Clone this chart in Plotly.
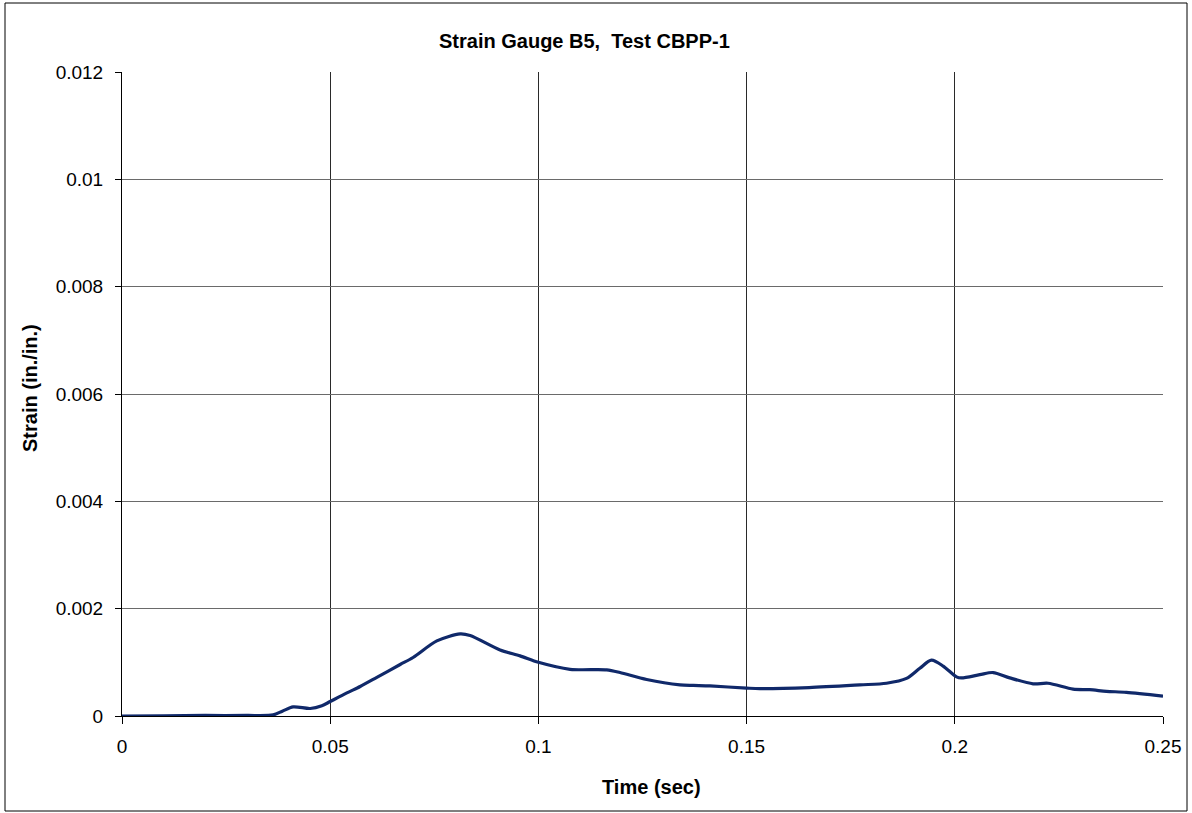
import plotly.graph_objects as go

time_s = [0.0, 0.01, 0.02, 0.03, 0.0363, 0.0385, 0.0411, 0.0452, 0.0480, 0.0500, 0.0540, 0.0572, 0.0612,
          0.0668, 0.0699, 0.0756, 0.0812, 0.0836, 0.0908, 0.0956, 0.1000, 0.1076, 0.1164,
          0.1196, 0.1260, 0.1340, 0.1372, 0.1412, 0.1500, 0.1532, 0.1650, 0.1772, 0.1836,
          0.1884, 0.1916, 0.1944, 0.1972, 0.2004, 0.2016, 0.2060, 0.2092, 0.2132, 0.2188,
          0.2224, 0.2284, 0.2324, 0.2364, 0.2412, 0.2500]
strain = [0.0, 0.000005, 0.00001, 0.00001, 0.00002, 0.00009, 0.00017, 0.00014, 0.00019, 0.00027, 0.00043, 0.00055, 0.00072,
          0.00096, 0.00109, 0.00140, 0.00153, 0.00150, 0.00123, 0.00112, 0.00100, 0.00087, 0.00086,
          0.00081, 0.00068, 0.00058, 0.00057, 0.00056, 0.00052, 0.00051, 0.00053, 0.00058, 0.00061,
          0.00070, 0.00089, 0.00104, 0.00093, 0.00073, 0.00071, 0.00077, 0.00081, 0.00071, 0.00060,
          0.00061, 0.00050, 0.00049, 0.00046, 0.00044, 0.00037]

x_ticks = [0, 0.05, 0.1, 0.15, 0.2, 0.25]
x_labels = ["0", "0.05", "0.1", "0.15", "0.2", "0.25"]
y_ticks = [0, 0.002, 0.004, 0.006, 0.008, 0.01, 0.012]
y_labels = ["0", "0.002", "0.004", "0.006", "0.008", "0.01", "0.012"]

title_text = "<b>Strain Gauge B5,\u00a0\u00a0Test CBPP-1</b>"
x_title = "<b>Time (sec)</b>"
y_title = "<b>Strain (in./in.)</b>"

W, H = 1192, 813
ml = 122
mt = 72
mr = W - 1163
mb = H - 716
pw, ph = W - ml - mr, H - mt - mb

def px(xp):
    return (xp - ml) / pw

def py(yp):
    return (H - mb - yp) / ph

fig = go.Figure()
fig.add_trace(go.Scatter(x=time_s, y=strain, mode="lines",
                         line=dict(color="#10296a", width=3.2, shape="spline", smoothing=0.8),
                         showlegend=False))

fig.update_layout(
    width=W, height=H,
    margin=dict(l=ml, r=mr, t=mt, b=mb),
    paper_bgcolor="white", plot_bgcolor="white",
    font=dict(family="Arial, Liberation Sans, sans-serif", color="black"),
    xaxis=dict(range=[0, 0.25], tickvals=x_ticks, ticktext=x_labels,
               showgrid=True, gridcolor="#2a2a2a", gridwidth=1,
               showline=True, linecolor="black", linewidth=1,
               ticks="outside", ticklen=7, tickcolor="black",
               tickfont=dict(size=19), zeroline=False, ticklabelstandoff=6),
    yaxis=dict(range=[0, 0.012], tickvals=y_ticks, ticktext=y_labels,
               showgrid=True, gridcolor="#6a6a6a", gridwidth=1,
               showline=True, linecolor="black", linewidth=1,
               ticks="outside", ticklen=6, tickcolor="black",
               tickfont=dict(size=19), zeroline=False, ticklabelstandoff=8),
    annotations=[
        dict(text=title_text, xref="paper", yref="paper", x=px(584), y=py(41),
             xanchor="center", yanchor="middle", showarrow=False, font=dict(size=20)),
        dict(text=x_title, xref="paper", yref="paper", x=px(651), y=py(787),
             xanchor="center", yanchor="middle", showarrow=False, font=dict(size=20)),
        dict(text=y_title, xref="paper", yref="paper", x=px(30), y=py(388),
             xanchor="center", yanchor="middle", showarrow=False, textangle=-90,
             font=dict(size=20)),
    ],
    shapes=[dict(type="rect", xref="paper", yref="paper",
                 x0=px(5), x1=px(1187), y0=py(811), y1=py(3),
                 line=dict(color="black", width=1), fillcolor="rgba(0,0,0,0)", layer="below")],
)

fig.write_html("out.html", config={"displayModeBar": False},
               post_script="document.body.style.margin='0';document.body.style.overflow='hidden';")
